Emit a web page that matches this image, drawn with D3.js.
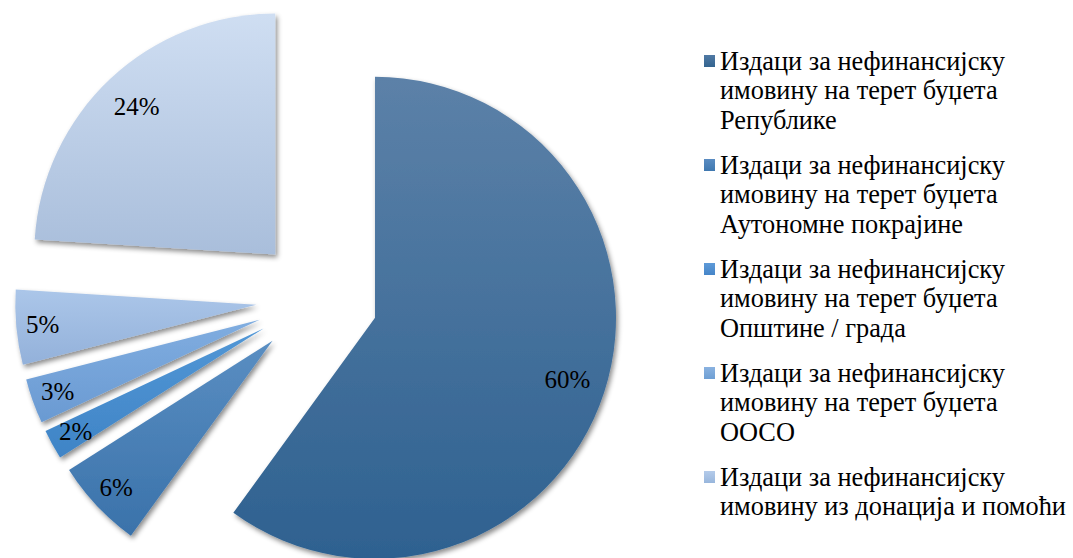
<!DOCTYPE html>
<html><head><meta charset="utf-8">
<script src="https://cdn.jsdelivr.net/npm/d3@7"></script>
</head><body style="margin:0">
<div id="wrap" style="position:relative;width:1073px;height:558px;">
<svg id="chart" width="1073" height="558" style="position:absolute;left:0;top:0;"></svg>
</div>
<script>
const values = [60, 6, 2, 3, 5, 24];
const sliceLabels = ["60%", "6%", "2%", "3%", "5%", "24%"];
const legendItems = [
  ["Издаци за нефинансијску", "имовину на терет буџета", "Републике"],
  ["Издаци за нефинансијску", "имовину на терет буџета", "Аутономне покрајине"],
  ["Издаци за нефинансијску", "имовину на терет буџета", "Општине / града"],
  ["Издаци за нефинансијску", "имовину на терет буџета", "ООСО"],
  ["Издаци за нефинансијску", "имовину из донација и помоћи"]
];
const colorsTop = ["#5c81a8", "#5a8ec2", "#5297d6", "#80ade0", "#abc6e9", "#cfdef2"];
const colorsBot = ["#2e6190", "#3a72aa", "#3f84c6", "#6a9ad2", "#93b1da", "#a9bedb"];
const legendColorsTop = ["#5079a4", "#5a8cc2", "#5e9ad8", "#8ab2e0", "#b4cbea"];
const legendColorsBot = ["#33648f", "#3f78b0", "#4585c8", "#6e9fd4", "#98b6dc"];

const FONT = '"Liberation Serif", Tinos, "Times New Roman", "DejaVu Serif", serif';
const svg = d3.select("#chart");
const wrap = d3.select("#wrap");
const cx = 317, cy = 299, R = 241, explode = 61;

const defs = svg.append("defs");
const f = defs.append("filter").attr("id", "shadow").attr("x", "-20%").attr("y", "-20%").attr("width", "140%").attr("height", "140%");
f.append("feDropShadow").attr("dx", 2).attr("dy", 3).attr("stdDeviation", 2.5).attr("flood-color", "#000").attr("flood-opacity", 0.45);

colorsTop.forEach((c, i) => {
  const g = defs.append("linearGradient").attr("id", "g" + i).attr("x1", 0).attr("y1", 0).attr("x2", 0).attr("y2", 1);
  g.append("stop").attr("offset", 0).attr("stop-color", c);
  g.append("stop").attr("offset", 1).attr("stop-color", colorsBot[i]);
});
legendColorsTop.forEach((c, i) => {
  const g = defs.append("linearGradient").attr("id", "lg" + i).attr("x1", 0).attr("y1", 0).attr("x2", 0).attr("y2", 1);
  g.append("stop").attr("offset", 0).attr("stop-color", c);
  g.append("stop").attr("offset", 1).attr("stop-color", legendColorsBot[i]);
});

// fit font sizes to the reference text widths, whatever font is actually used
function fitSize(str, base, target) {
  const s = wrap.append("span").style("position", "absolute").style("white-space", "nowrap")
    .style("font-family", FONT).style("font-size", base + "px").text(str);
  const w = s.node().getBoundingClientRect().width;
  s.remove();
  return w > 0 ? Math.min(base, base * target / w) : base;
}
const legendSize = fitSize("имовину из донација и помоћи", 31, 346);
const labelSize = fitSize("24%", 25, 46);

const pie = d3.pie().sort(null).value(d => d).startAngle(0).endAngle(2 * Math.PI);
const arcs = pie(values);
const arc = d3.arc().innerRadius(0).outerRadius(R);

const g = svg.append("g").attr("transform", `translate(${cx},${cy})`);
const slices = g.selectAll("g.slice").data(arcs).join("g").attr("class", "slice")
  .attr("transform", d => {
    const a = (d.startAngle + d.endAngle) / 2;
    return `translate(${explode * Math.sin(a)},${-explode * Math.cos(a)})`;
  });
slices.append("path").attr("d", arc).attr("fill", (d, i) => `url(#g${i})`).attr("filter", "url(#shadow)");

// percentage labels as HTML text over the pie
arcs.forEach((d, i) => {
  const a = (d.startAngle + d.endAngle) / 2;
  const lr = d.value > 10 ? 0.84 * R : 0.89 * R;
  const x = cx + (explode + lr) * Math.sin(a);
  const y = cy - (explode + lr) * Math.cos(a);
  wrap.append("div")
    .style("position", "absolute").style("white-space", "nowrap")
    .style("left", (x - 40) + "px").style("width", "80px").style("text-align", "center")
    .style("top", (y - labelSize * 0.6) + "px").style("line-height", (labelSize * 1.2) + "px")
    .style("font-family", FONT).style("font-size", labelSize + "px").style("color", "#000")
    .text(sliceLabels[i]);
});

// legend
const legendX = 704, firstBase = 72, entryGap = 104, lineH = 29.5;
legendItems.forEach((lines, i) => {
  const base = firstBase + i * entryGap;
  svg.append("rect").attr("x", legendX).attr("y", base - 17).attr("width", 11).attr("height", 12).attr("fill", `url(#lg${i})`);
  lines.forEach((ln, j) => {
    wrap.append("div")
      .style("position", "absolute").style("white-space", "nowrap")
      .style("left", (legendX + 16) + "px")
      .style("top", (base + j * lineH - legendSize * 0.89 - (lineH - legendSize) / 2) + "px")
      .style("height", lineH + "px").style("line-height", lineH + "px")
      .style("font-family", FONT).style("font-size", legendSize + "px").style("color", "#000")
      .text(ln);
  });
});
</script>
</body></html>
